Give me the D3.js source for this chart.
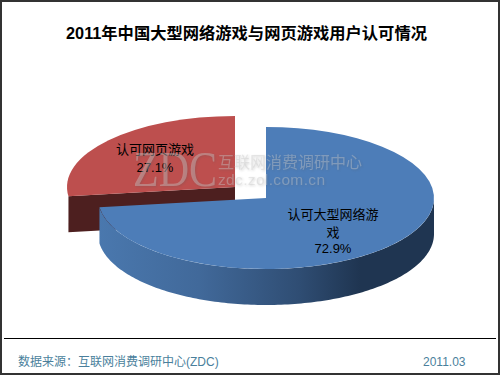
<!DOCTYPE html>
<html><head><meta charset="utf-8">
<script src="https://cdnjs.cloudflare.com/ajax/libs/d3/7.8.5/d3.min.js"></script>
<style>html,body{margin:0;padding:0;background:#fff}svg{display:block}</style>
</head><body><svg id="c" width="500" height="375"></svg>
<script>
const categories = ["认可大型网络游戏", "认可网页游戏"];
const values = [72.9, 27.1];
const labelLines = [["认可大型网络游", "戏", "72.9%"], ["认可网页游戏", "27.1%"]];
const colors = ["#4d7db8", "#bd4f4e"];
const titleText = "2011年中国大型网络游戏与网页游戏用户认可情况";
const sourceText = "数据来源\uFF1A互联网消费调研中心(ZDC)";
const dateText = "2011.03";

const svg = d3.select("#c");
const cjk = "Arial, 'Liberation Sans', 'Noto Sans CJK SC', sans-serif";
const rx = 168, ry = 71, depth = 36;
const centers = [[266, 198], [235, 187]];
const pie = d3.pie().sort(null)(values);
const arc = d3.arc().innerRadius(0).outerRadius(rx);
const defs = svg.append("defs");
const grad = defs.append("linearGradient").attr("id", "rim").attr("gradientUnits", "userSpaceOnUse")
  .attr("x1", 98).attr("x2", 434).attr("y1", 0).attr("y2", 0);
[[0, "#4a78ae"], [0.3, "#41699a"], [0.6, "#2f4d73"], [0.78, "#1f3551"], [1, "#1f3551"]]
  .forEach(s => grad.append("stop").attr("offset", s[0]).attr("stop-color", s[1]));
const blur = defs.append("filter").attr("id", "soft").attr("x", "-5%").attr("y", "-20%").attr("width", "110%").attr("height", "140%");
blur.append("feGaussianBlur").attr("stdDeviation", 0.8);

svg.append("rect").attr("x", 1).attr("y", 1).attr("width", 498).attr("height", 373)
  .attr("fill", "#fff").attr("stroke", "#333").attr("stroke-width", 2);

svg.append("text").attr("x", 246.5).attr("y", 39).attr("text-anchor", "middle")
  .attr("font-family", cjk).attr("font-size", 16.3).attr("font-weight", 700).attr("fill", "#000").text(titleText);

const px = (a, c) => c[0] + rx * Math.sin(a);
const py = (a, c) => c[1] - ry * Math.cos(a);

// red slice (behind): cut face, then top
const red = pie[1], cr = centers[1];
const faceA = red.startAngle;
svg.append("path").attr("fill", "#4d1f1f")
  .attr("d", d3.line()([[px(faceA, cr), py(faceA, cr)], cr, [cr[0], cr[1] + depth], [px(faceA, cr), py(faceA, cr) + depth]]) + "Z");
svg.append("g").attr("transform", `translate(${cr[0]},${cr[1]}) scale(1,${ry / rx})`)
  .append("path").attr("d", arc(red)).attr("fill", colors[1]);

// blue slice: visible rim, then top
const blue = pie[0], cb = centers[0];
const rimAngles = d3.range(Math.PI / 2, blue.endAngle, 0.02).concat([blue.endAngle]);
const outer = rimAngles.map(a => [px(a, cb), py(a, cb)]);
const lower = rimAngles.map(a => [px(a, cb), py(a, cb) + depth]).reverse();
svg.append("path").attr("d", d3.line()(outer.concat(lower)) + "Z").attr("fill", "url(#rim)");
svg.append("g").attr("transform", `translate(${cb[0]},${cb[1]}) scale(1,${ry / rx})`)
  .append("path").attr("d", arc(blue)).attr("fill", colors[0]);

// pie labels
const labelPos = [[333, [219, 237, 253]], [155, [154, 172]]];
labelLines.forEach((lines, i) => lines.forEach((t, j) =>
  svg.append("text").attr("x", labelPos[i][0]).attr("y", labelPos[i][1][j]).attr("text-anchor", "middle")
    .attr("font-family", cjk).attr("font-size", 13).attr("fill", "#000").text(t)));

// watermark stamped on top
function mark(g, fill, dx) {
  g.append("text").attr("x", 133 + dx).attr("y", 186 + dx).attr("font-family", "'Liberation Serif', serif").attr("font-size", 50)
    .attr("textLength", 84).attr("lengthAdjust", "spacingAndGlyphs").attr("fill", fill).text("ZDC");
  g.append("text").attr("x", 218 + dx).attr("y", 168 + dx).attr("font-family", cjk).attr("font-size", 16)
    .attr("fill", fill).text("互联网消费调研中心");
  g.append("text").attr("x", 218 + dx).attr("y", 185 + dx).attr("font-family", cjk).attr("font-size", 15.5)
    .attr("textLength", 107).attr("fill", fill).text("zdc.zol.com.cn");
}
mark(svg.append("g").attr("filter", "url(#soft)").attr("opacity", 0.22), "#555", 1);
mark(svg.append("g").attr("opacity", 0.4), "#ccc", 0);

// footer
svg.append("line").attr("x1", 4).attr("x2", 496).attr("y1", 338.5).attr("y2", 338.5).attr("stroke", "#000").attr("stroke-width", 1);
svg.append("text").attr("x", 18).attr("y", 366).attr("font-family", cjk).attr("font-size", 12).attr("fill", "#4a7f9c").text(sourceText);
svg.append("text").attr("x", 423).attr("y", 366).attr("font-family", cjk).attr("font-size", 12).attr("fill", "#4a7f9c").text(dateText);
</script></body></html>
